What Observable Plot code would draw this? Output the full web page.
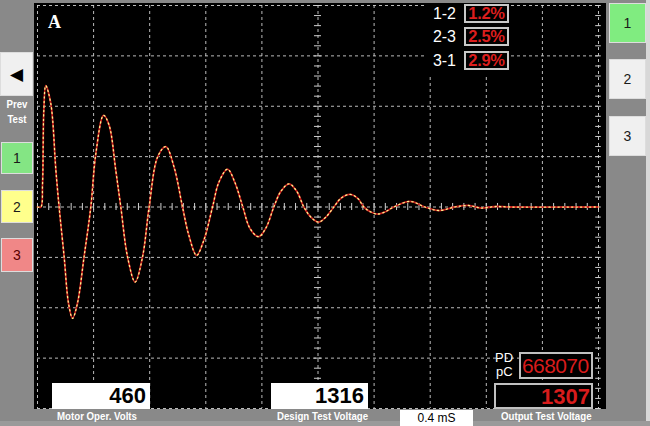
<!DOCTYPE html>
<html><head><meta charset="utf-8">
<script src="https://cdn.jsdelivr.net/npm/d3@7"></script>
<script src="https://cdn.jsdelivr.net/npm/@observablehq/plot@0.6"></script>
<style>
body{margin:0;background:#fff;}
#wrap{position:relative;width:650px;height:426px;background:#898989;overflow:hidden;font-family:"Liberation Sans",Arial,sans-serif;}
.abs{position:absolute;box-sizing:border-box;}
.btn{display:flex;align-items:center;justify-content:center;color:#1a1a1a;font-size:14px;border:1px solid #ddd;}
.lbl{color:#fff;font-family:"Liberation Sans",Arial,sans-serif;font-weight:bold;font-size:11px;text-align:center;white-space:nowrap;transform:scaleX(0.88);transform-origin:center;}
.pct{background:#000;border:2px solid #c8c8c8;color:#dc1e1e;font-weight:bold;font-size:16.5px;letter-spacing:-0.3px;display:flex;align-items:center;justify-content:center;}
.pair{color:#fff;font-size:15px;text-align:right;}
.val{background:#fff;color:#000;font-weight:bold;font-size:22px;text-align:right;padding-right:4px;line-height:26px;}
.red{background:#000;border:2px solid #c0c0c0;color:#d81c1c;font-size:22px;line-height:23px;overflow:hidden;white-space:nowrap;}
</style></head><body><div id="wrap"></div>
<script>
// Waveform (time in ms, amplitude in screen divisions)
const timeMs = [0,0.024,0.036,0.045,0.059,0.095,0.131,0.154,0.190,0.221,0.250,0.285,0.332,0.380,0.416,0.471,0.511,0.558,0.594,0.642,0.696,0.749,0.796,0.856,0.915,0.974,1.034,1.079,1.134,1.186,1.248,1.293,1.355,1.407,1.464,1.514,1.576,1.628,1.685,1.735,1.794,1.849,1.899,1.949,2.004,2.056,2.113,2.162,2.229,2.284,2.327,2.377,2.424,2.476,2.541,2.657,2.762,2.864,2.975,3.075,3.16,3.27,3.37,4.0];
const amplitude = [0,0,0.47,1.91,2.41,2.05,0.73,0,-0.99,-1.91,-2.21,-1.91,-0.99,0,1.06,1.82,1.62,0.73,0,-0.99,-1.49,-0.99,0,0.99,1.20,0.79,0,-0.56,-0.96,-0.66,0,0.49,0.75,0.49,0,-0.42,-0.59,-0.42,0,0.31,0.46,0.31,0,-0.20,-0.30,-0.20,0,0.17,0.25,0.17,0,-0.10,-0.14,-0.10,0,0.11,0,-0.07,0,0.03,-0.02,0.01,0,0];
// Grid ticks
const xGrid = [0,0.4,0.8,1.2,1.6,2.0,2.4,2.8,3.2,3.6,4.0];
const yGrid = [-4,-3,-2,-1,0,1,2,3,4];
// Readouts
const pairLabels = ["1-2","2-3","3-1"];
const pairValues = ["1.2%","2.5%","2.9%"];
const motorVolts = "460";
const designVolts = "1316";
const outputVolts = "1307";
const pdValue = "668070";
const timeBase = "0.4 mS";
const boxLabels = ["Motor Oper. Volts","Design Test Voltage","Output Test Voltage"];

const wave = timeMs.map((t,i)=>({t, v: amplitude[i]}));
const minorX = d3.range(0, 4.0001, 0.08);
const minorY = d3.range(-4, 4.0001, 0.2);

const grid = {stroke:"#cfcfcf", strokeDasharray:"3,3", strokeWidth:1, strokeOpacity:0.9};
const plot = Plot.plot({
  width:572, height:406,
  marginLeft:3, marginRight:8, marginTop:2, marginBottom:1,
  style:{background:"#000", overflow:"visible"},
  x:{domain:[0,4], axis:null},
  y:{domain:[-4,4], axis:null},
  marks:[
    Plot.ruleX(xGrid, grid),
    Plot.ruleY(yGrid, grid),
    Plot.ruleX(minorX, {y1:-0.07, y2:0.07, stroke:"#cfcfcf", strokeWidth:1}),
    Plot.ruleY(minorY, {x1:1.975, x2:2.025, stroke:"#cfcfcf", strokeWidth:1}),
    Plot.ruleY(minorY, {x1:3.98, x2:4.02, stroke:"#cfcfcf", strokeWidth:1}),
    Plot.line(wave, {x:"t", y:"v", stroke:"#c41c1c", strokeWidth:1.8, curve:"catmull-rom"}),
    Plot.line(wave, {x:"t", y:"v", stroke:"#fff08a", strokeWidth:1.3, strokeDasharray:"1.3,3.2", curve:"catmull-rom"})
  ]
});
const wrap = document.getElementById("wrap");
plot.style.position = "absolute";
plot.style.left = "34px";
plot.style.top = "3px";
wrap.appendChild(plot);

function add(cls, css, text){
  const d = document.createElement("div");
  d.className = "abs " + cls;
  Object.assign(d.style, css);
  if (text !== undefined) d.textContent = text;
  wrap.appendChild(d);
  return d;
}
// Frame edges
add("", {left:"646px", top:"0px", width:"4px", height:"426px", background:"#d8d8d8"});
add("", {left:"0px", top:"421px", width:"650px", height:"5px", background:"#9a9a9a"});
// Left panel
add("btn", {left:"0px", top:"52px", width:"33px", height:"44px", background:"#f0f0f0", fontSize:"17px", color:"#000", fontFamily:"DejaVu Sans"}, "◀");
add("lbl", {left:"0px", top:"97px", width:"34px", fontSize:"11px", lineHeight:"15px"}, "Prev");
add("lbl", {left:"0px", top:"112px", width:"34px", fontSize:"11px", lineHeight:"15px"}, "Test");
add("btn", {left:"1px", top:"142px", width:"32px", height:"32px", background:"#84e584"}, "1");
add("btn", {left:"1px", top:"190px", width:"32px", height:"33px", background:"#ffff8c"}, "2");
add("btn", {left:"1px", top:"238px", width:"32px", height:"34px", background:"#f08787", color:"#5a0000"}, "3");
// Right panel
add("btn", {left:"609px", top:"3px", width:"37px", height:"40px", background:"#80ec80"}, "1");
add("btn", {left:"609px", top:"59px", width:"37px", height:"40px", background:"#f0f0f0"}, "2");
add("btn", {left:"609px", top:"116px", width:"37px", height:"40px", background:"#f0f0f0"}, "3");
// Title letter
add("", {left:"48px", top:"12px", color:"#fff", fontFamily:"Liberation Serif", fontWeight:"bold", fontSize:"18px"}, "A");
// Phase balance readouts (on a black block hiding the grid)
add("", {left:"424px", top:"3px", width:"87px", height:"72px", background:"#000"});
const tops = [4, 27, 51];
pairLabels.forEach((p,i)=>{
  add("pair", {left:"419px", top:(tops[i]+1)+"px", width:"37px", lineHeight:"18px", fontSize:"16px"}, p);
  add("pct", {left:"464px", top:tops[i]+"px", width:"45px", height:"19px"}, pairValues[i]);
});
// Bottom readouts
add("val", {left:"52px", top:"383px", width:"98px", height:"26px"}, motorVolts);
add("val", {left:"271px", top:"383px", width:"97px", height:"26px"}, designVolts);
add("", {left:"400px", top:"410px", width:"73px", height:"16px", background:"#fff", fontSize:"12px", lineHeight:"16px", textAlign:"center", color:"#000"}, timeBase);
add("", {left:"495px", top:"351px", color:"#fff", fontSize:"13px", lineHeight:"14px"}, "PD");
add("", {left:"496px", top:"365px", color:"#fff", fontSize:"13px", lineHeight:"14px"}, "pC");
add("red", {left:"519px", top:"352px", width:"74px", height:"27px", paddingLeft:"1px", fontSize:"21px", letterSpacing:"-0.6px"}, pdValue);
add("red", {left:"494px", top:"383px", width:"99px", height:"26px", textAlign:"right", paddingRight:"1px", fontWeight:"bold"}, outputVolts);
add("lbl", {left:"47px", top:"409px", width:"100px", lineHeight:"15px"}, boxLabels[0]);
add("lbl", {left:"271px", top:"409px", width:"100px", lineHeight:"15px"}, boxLabels[1]);
add("lbl", {left:"495px", top:"409px", width:"100px", lineHeight:"15px"}, boxLabels[2]);
</script></body></html>
